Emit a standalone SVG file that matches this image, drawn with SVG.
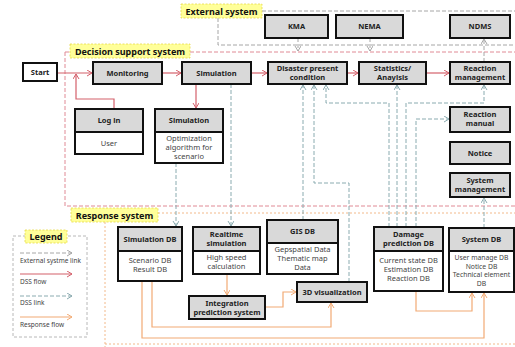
<svg xmlns="http://www.w3.org/2000/svg" width="515" height="347" viewBox="0 0 515 347">
  <style>
    .hd { fill: #d9d9d9; stroke: #111; stroke-width: 2; }
    .bd { fill: #fff; stroke: #111; stroke-width: 2; }
    .t { font-family: "Noto Sans", "Liberation Sans", sans-serif; font-size: 7.5px; font-weight: bold; fill: #222; text-anchor: middle; }
    .b { font-family: "Noto Sans", "Liberation Sans", sans-serif; font-size: 7.5px; fill: #444; text-anchor: middle; }
    .bs { font-family: "Noto Sans", "Liberation Sans", sans-serif; font-size: 6.8px; fill: #444; text-anchor: middle; }
    .sec { font-family: "Noto Sans", "Liberation Sans", sans-serif; font-size: 9px; font-weight: bold; fill: #111; }
    .lab { fill: #ffff99; stroke: #e6d94a; stroke-width: 0.8; stroke-dasharray: 2 1.5; }
    .lg { font-family: "Noto Sans", "Liberation Sans", sans-serif; font-size: 6.5px; fill: #444; }
    .ext { fill: none; stroke: #a6a6a6; stroke-width: 1; stroke-dasharray: 4 2; }
    .dss { fill: none; stroke: #d4606b; stroke-width: 1.2; }
    .lnk { fill: none; stroke: #8aabb0; stroke-width: 1; stroke-dasharray: 4 2; }
    .rsp { fill: none; stroke: #f2aa74; stroke-width: 1.2; }
  </style>
  <defs>
    <marker id="aExt" markerWidth="7" markerHeight="7" refX="5" refY="3" orient="auto" markerUnits="userSpaceOnUse">
      <path d="M0,0 L5,3 L0,6" fill="none" stroke="#a6a6a6" stroke-width="1"/>
    </marker>
    <marker id="aDss" markerWidth="7" markerHeight="7" refX="5" refY="3" orient="auto" markerUnits="userSpaceOnUse">
      <path d="M0,0 L5,3 L0,6" fill="none" stroke="#d4606b" stroke-width="1"/>
    </marker>
    <marker id="aLnk" markerWidth="7" markerHeight="7" refX="5" refY="3" orient="auto" markerUnits="userSpaceOnUse">
      <path d="M0,0 L5,3 L0,6" fill="none" stroke="#8aabb0" stroke-width="1"/>
    </marker>
    <marker id="aRsp" markerWidth="7" markerHeight="7" refX="5" refY="3" orient="auto" markerUnits="userSpaceOnUse">
      <path d="M0,0 L5,3 L0,6" fill="none" stroke="#f2aa74" stroke-width="1"/>
    </marker>
  </defs>

  <rect width="515" height="347" fill="#fff"/>

  <!-- system boundaries -->
  <g id="boundaries">
    <path class="ext" d="M262,11 H515 M218,18 V45 H515"/>
    <path d="M65,52 H70 M190,52 H515 M65,52 V206 H515" fill="none" stroke="#e08a95" stroke-width="1" stroke-dasharray="4 2"/>
    <path d="M158,213 H515 M105,222 V347 M105,344 H515" fill="none" stroke="#f2b98a" stroke-width="1" stroke-dasharray="2 2"/>
    <rect class="lab" x="181" y="4" width="81" height="14"/>
    <text class="sec" x="221.5" y="14.5" text-anchor="middle">External system</text>
    <rect class="lab" x="70" y="44" width="120" height="14"/>
    <text class="sec" x="130" y="54.5" text-anchor="middle">Decision support system</text>
    <rect class="lab" x="71" y="208" width="87" height="14"/>
    <text class="sec" x="114.5" y="218.5" text-anchor="middle">Response system</text>
  </g>

  <!-- connectors -->
  <g id="connectors">
    <!-- external links -->
    <path class="ext" d="M298,38 V51" marker-end="url(#aExt)"/>
    <path class="ext" d="M370,38 V51" marker-end="url(#aExt)"/>
    <path class="ext" d="M484,62 V39" marker-end="url(#aExt)"/>
    <!-- DSS flow -->
    <path class="dss" d="M57,73 H92" marker-end="url(#aDss)"/>
    <path class="dss" d="M114,109 V99 H76 V74" marker-end="url(#aDss)"/>
    <path class="dss" d="M162,73 H181" marker-end="url(#aDss)"/>
    <path class="dss" d="M251,73 H267" marker-end="url(#aDss)"/>
    <path class="dss" d="M347,73 H358" marker-end="url(#aDss)"/>
    <path class="dss" d="M426,73 H449" marker-end="url(#aDss)"/>
    <path class="dss" d="M196,84 V108" marker-end="url(#aDss)"/>
    <!-- DSS links -->
    <path class="lnk" d="M176,163 V226" marker-end="url(#aLnk)"/>
    <path class="lnk" d="M231,84 V226" marker-end="url(#aLnk)"/>
    <path class="lnk" d="M303,220 V85" marker-end="url(#aLnk)"/>
    <path class="lnk" d="M349,282 V183 H314 V85" marker-end="url(#aLnk)"/>
    <path class="lnk" d="M389,227 V103 H326 V85" marker-end="url(#aLnk)"/>
    <path class="lnk" d="M397,227 V85" marker-end="url(#aLnk)"/>
    <path class="lnk" d="M406,227 V103 H484 V85" marker-end="url(#aLnk)"/>
    <path class="lnk" d="M416,227 V119 H449" marker-end="url(#aLnk)"/>
    <path class="lnk" d="M484,228 V198" marker-end="url(#aLnk)"/>
    <!-- response flow -->
    <path class="rsp" d="M227,274 V295" marker-end="url(#aRsp)"/>
    <path class="rsp" d="M265,307 H283 V292 H296" marker-end="url(#aRsp)"/>
    <path class="rsp" d="M152,281 V327 H331 V303" marker-end="url(#aRsp)"/>
    <path class="rsp" d="M142,281 V338 H484 V293" marker-end="url(#aRsp)"/>
    <path class="rsp" d="M416,291 V311 H472 V293" marker-end="url(#aRsp)"/>
  </g>

  <!-- external system nodes -->
  <g id="kma"><rect class="hd" x="265" y="15" width="63" height="23"/><text class="t" x="296.5" y="29">KMA</text></g>
  <g id="nema"><rect class="hd" x="336" y="15" width="67" height="23"/><text class="t" x="369.5" y="29">NEMA</text></g>
  <g id="ndms"><rect class="hd" x="450" y="15" width="60" height="23"/><text class="t" x="480" y="29">NDMS</text></g>

  <!-- decision support nodes -->
  <g id="start"><rect class="bd" x="23" y="63" width="34" height="18"/><text class="t" x="40" y="75">Start</text></g>
  <g id="monitoring"><rect class="hd" x="93" y="62" width="69" height="22"/><text class="t" x="127.5" y="76">Monitoring</text></g>
  <g id="simulation"><rect class="hd" x="182" y="62" width="69" height="22"/><text class="t" x="216.5" y="76">Simulation</text></g>
  <g id="disaster"><rect class="hd" x="268" y="62" width="79" height="22"/><text class="t" x="307.5" y="71">Disaster present</text><text class="t" x="307.5" y="80">condition</text></g>
  <g id="statistics"><rect class="hd" x="359" y="62" width="67" height="22"/><text class="t" x="392.5" y="71">Statistics/</text><text class="t" x="392.5" y="80">Anaylsis</text></g>
  <g id="reaction-management"><rect class="hd" x="450" y="62" width="60" height="22"/><text class="t" x="480" y="71">Reaction</text><text class="t" x="480" y="80">management</text></g>
  <g id="login">
    <rect class="bd" x="75" y="132" width="68" height="22"/><rect class="hd" x="75" y="109" width="68" height="23"/>
    <text class="t" x="109" y="123">Log in</text><text class="b" x="109" y="146">User</text>
  </g>
  <g id="simulation-opt">
    <rect class="bd" x="155" y="132" width="68" height="31"/><rect class="hd" x="155" y="109" width="68" height="23"/>
    <text class="t" x="189" y="123">Simulation</text>
    <text class="b" x="189" y="141">Optimization</text><text class="b" x="189" y="150">algorithm for</text><text class="b" x="189" y="159">scenario</text>
  </g>
  <g id="reaction-manual"><rect class="hd" x="450" y="107" width="60" height="25"/><text class="t" x="480" y="117">Reaction</text><text class="t" x="480" y="126">manual</text></g>
  <g id="notice"><rect class="hd" x="450" y="142" width="60" height="22"/><text class="t" x="480" y="156">Notice</text></g>
  <g id="system-management"><rect class="hd" x="450" y="173" width="60" height="24"/><text class="t" x="480" y="183">System</text><text class="t" x="480" y="192">management</text></g>

  <!-- response system nodes -->
  <g id="simulation-db">
    <rect class="bd" x="118" y="251" width="64" height="30"/><rect class="hd" x="118" y="227" width="64" height="24"/>
    <text class="t" x="150" y="242">Simulation DB</text>
    <text class="b" x="150" y="263">Scenario DB</text><text class="b" x="150" y="272">Result DB</text>
  </g>
  <g id="realtime-simulation">
    <rect class="bd" x="193" y="251" width="67" height="23"/><rect class="hd" x="193" y="227" width="67" height="24"/>
    <text class="t" x="226.5" y="237">Realtime</text><text class="t" x="226.5" y="246">simulation</text>
    <text class="b" x="226.5" y="260">High speed</text><text class="b" x="226.5" y="269">calculation</text>
  </g>
  <g id="gis-db">
    <rect class="bd" x="267" y="243" width="71" height="31"/><rect class="hd" x="267" y="220" width="71" height="23"/>
    <text class="t" x="302.5" y="234">GIS DB</text>
    <text class="b" x="302.5" y="252">Gepspatial Data</text><text class="b" x="302.5" y="261">Thematic map</text><text class="b" x="302.5" y="270">Data</text>
  </g>
  <g id="integration"><rect class="hd" x="189" y="296" width="76" height="23"/><text class="t" x="227" y="306">Integration</text><text class="t" x="227" y="315">prediction system</text></g>
  <g id="visualization"><rect class="hd" x="297" y="282" width="70" height="20"/><text class="t" x="332" y="295">3D visualization</text></g>
  <g id="damage-db">
    <rect class="bd" x="374" y="251" width="69" height="40"/><rect class="hd" x="374" y="227" width="69" height="24"/>
    <text class="t" x="408.5" y="237">Damage</text><text class="t" x="408.5" y="246">prediction DB</text>
    <text class="b" x="408.5" y="263">Current state DB</text><text class="b" x="408.5" y="272">Estimation DB</text><text class="b" x="408.5" y="281">Reaction DB</text>
  </g>
  <g id="system-db">
    <rect class="bd" x="449" y="251" width="65" height="41"/><rect class="hd" x="449" y="228" width="65" height="23"/>
    <text class="t" x="481.5" y="242">System DB</text>
    <text class="bs" x="481.5" y="260">User manage DB</text><text class="bs" x="481.5" y="268.5">Notice DB</text><text class="bs" x="481.5" y="277">Technical element</text><text class="bs" x="481.5" y="285.5">DB</text>
  </g>

  <!-- legend -->
  <g id="legend">
    <rect x="13" y="236" width="74" height="101" fill="none" stroke="#a6a6a6" stroke-width="0.8" stroke-dasharray="3 2"/>
    <rect class="lab" x="25" y="230" width="42" height="13"/>
    <text class="sec" x="46" y="240" text-anchor="middle">Legend</text>
    <path class="ext" d="M20,253 H72" marker-end="url(#aExt)"/>
    <text class="lg" x="20" y="263">External systme link</text>
    <path class="dss" d="M20,274 H72" marker-end="url(#aDss)"/>
    <text class="lg" x="20" y="284">DSS flow</text>
    <path class="lnk" d="M20,296 H72" marker-end="url(#aLnk)"/>
    <text class="lg" x="20" y="305">DSS link</text>
    <path class="rsp" d="M20,317 H72" marker-end="url(#aRsp)"/>
    <text class="lg" x="20" y="327">Response flow</text>
  </g>
</svg>
